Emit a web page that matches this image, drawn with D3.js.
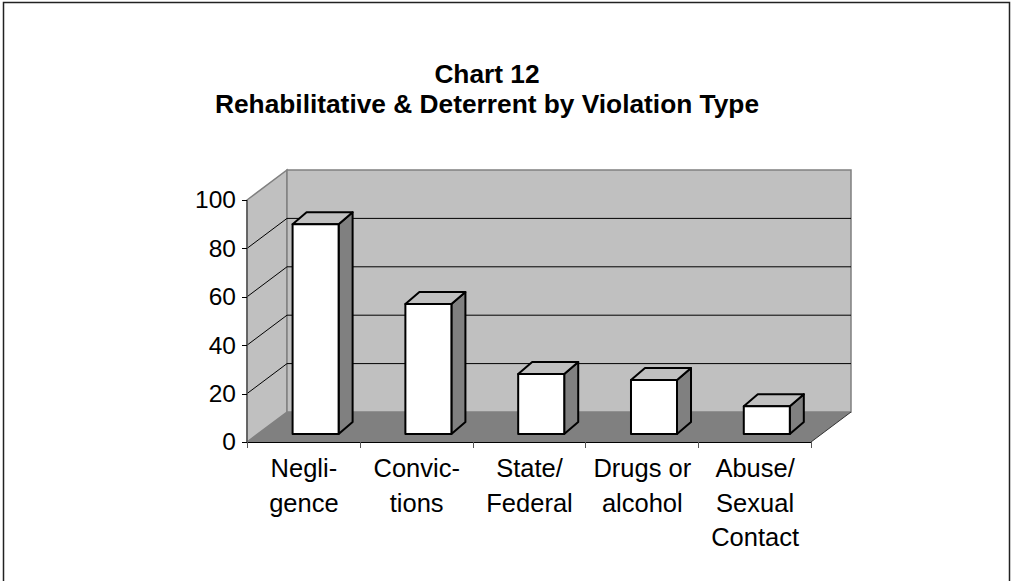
<!DOCTYPE html>
<html>
<head>
<meta charset="utf-8">
<script src="https://cdn.jsdelivr.net/npm/d3@7"></script>
<style>
body { margin: 0; background: #fff; }
svg { display: block; }
text { font-family: "Liberation Sans", Arial, sans-serif; fill: #000; }
.title { font-size: 26.3px; font-weight: bold; text-anchor: middle; }
.axis text { font-size: 24.5px; }
.xlabel { font-size: 25.5px; text-anchor: middle; }
.axis path, .axis line { stroke: #000; shape-rendering: crispEdges; }
.xaxis line { stroke: #555; }
</style>
</head>
<body>
<div id="chart"></div>
<script>
var categories = [['Negli-', 'gence'], ['Convic-', 'tions'], ['State/', 'Federal'], ['Drugs or', 'alcohol'], ['Abuse/', 'Sexual', 'Contact']];
var values = [86.7, 53.7, 24.8, 22.3, 11.5];
var yTicks = [0, 20, 40, 60, 80, 100];
var titleLines = ['Chart 12', 'Rehabilitative & Deterrent by Violation Type'];

var totalWidth = 1011, totalHeight = 581;
var margin = { top: 200, left: 247, bottom: 139, right: 200 },
    width = totalWidth - margin.left - margin.right,
    height = totalHeight - margin.top - margin.bottom;

// depth of the 3d box, and of each bar inside it
var depth = { x: 40, y: -30 };
var barDepth = { x: 14, y: -12 };
var barShift = { x: 12.2, y: -8 };

var svg = d3.select('#chart').append('svg')
    .attr('width', totalWidth)
    .attr('height', totalHeight);

// outer frame, open at the bottom
svg.append('path')
    .attr('d', 'M3.5,581V2.5H1009.5V581')
    .attr('fill', 'none')
    .attr('stroke', '#222')
    .attr('stroke-width', 1.5);

svg.selectAll('.title')
    .data(titleLines)
    .enter()
    .append('text')
    .attr('class', 'title')
    .attr('x', 487)
    .attr('y', (d, i) => 83 + i * 30)
    .text(d => d);

var g = svg.append('g')
    .attr('transform', 'translate(' + margin.left + ', ' + margin.top + ')');

var x = d3.scaleBand()
    .domain(categories.map(d => d.join(' ')))
    .range([0, width])
    .paddingInner(0.592)
    .paddingOuter(0.296);

var y = d3.scaleLinear()
    .domain([0, 100])
    .range([height, 0]);

function pts(list) {
    return list.map(p => p.join(',')).join(' ');
}

// walls and floor
g.append('polygon')
    .attr('points', pts([[0, y(0)], [depth.x, y(0) + depth.y], [depth.x, y(100) + depth.y], [0, y(100)]]))
    .attr('fill', '#c0c0c0')
    .attr('stroke', '#808080')
    .attr('stroke-width', 1.5);

g.append('polygon')
    .attr('points', pts([[depth.x, y(0) + depth.y], [width + depth.x, y(0) + depth.y], [width + depth.x, y(100) + depth.y], [depth.x, y(100) + depth.y]]))
    .attr('fill', '#c0c0c0')
    .attr('stroke', '#808080')
    .attr('stroke-width', 1.5);

g.append('polygon')
    .attr('points', pts([[0, y(0)], [width, y(0)], [width + depth.x, y(0) + depth.y], [depth.x, y(0) + depth.y]]))
    .attr('fill', '#808080');

// gridlines
g.selectAll('.grid')
    .data(yTicks.filter(d => d > 0 && d < 100))
    .enter()
    .append('polyline')
    .attr('class', 'grid')
    .attr('points', d => pts([[0, y(d)], [depth.x, y(d) + depth.y], [width + depth.x, y(d) + depth.y]]))
    .attr('fill', 'none')
    .attr('stroke', '#000')
    .attr('stroke-width', 1);

g.append('line')
    .attr('x1', width)
    .attr('y1', y(0))
    .attr('x2', width + depth.x)
    .attr('y2', y(0) + depth.y)
    .attr('stroke', '#333')
    .attr('stroke-width', 1);

// front edge of the side wall
g.append('line')
    .attr('x1', 0)
    .attr('y1', y(0))
    .attr('x2', 0)
    .attr('y2', y(100))
    .attr('stroke', '#555')
    .attr('stroke-width', 1.5);

// axes
var yAxis = d3.axisLeft(y).tickValues(yTicks).tickSize(5).tickPadding(6);
var yG = g.append('g').attr('class', 'axis').call(yAxis);
yG.select('.domain').remove();

var xAxis = d3.axisBottom(d3.scaleLinear().domain([0, categories.length]).range([0, width]))
    .tickValues(d3.range(categories.length + 1))
    .tickSize(6)
    .tickFormat('');
g.append('g').attr('class', 'axis xaxis')
    .attr('transform', 'translate(0,' + height + ')')
    .call(xAxis);

// bars
var bars = g.selectAll('.bar')
    .data(values)
    .enter()
    .append('g')
    .attr('class', 'bar')
    .attr('transform', (d, i) => 'translate(' + (x(categories[i].join(' ')) + barShift.x) + ',' + barShift.y + ')')
    .attr('stroke', '#000')
    .attr('stroke-width', 2)
    .attr('stroke-linejoin', 'round');

var bw = x.bandwidth();

bars.append('polygon')
    .attr('points', d => pts([[bw, y(d)], [bw + barDepth.x, y(d) + barDepth.y], [bw + barDepth.x, y(0) + barDepth.y], [bw, y(0)]]))
    .attr('fill', '#808080');

bars.append('polygon')
    .attr('points', d => pts([[0, y(d)], [barDepth.x, y(d) + barDepth.y], [bw + barDepth.x, y(d) + barDepth.y], [bw, y(d)]]))
    .attr('fill', '#c0c0c0');

bars.append('rect')
    .attr('x', 0)
    .attr('y', d => y(d))
    .attr('width', bw)
    .attr('height', d => y(0) - y(d))
    .attr('fill', '#fff');

// category labels
var labelBand = d3.scaleBand()
    .domain(categories.map(d => d.join(' ')))
    .range([0, width]);

categories.forEach(function (lines) {
    g.selectAll(null)
        .data(lines)
        .enter()
        .append('text')
        .attr('class', 'xlabel')
        .attr('x', labelBand(lines.join(' ')) + labelBand.bandwidth() / 2 + 0.5)
        .attr('y', (d, i) => height + 35 + i * 34.5)
        .text(d => d);
});
</script>
</body>
</html>
